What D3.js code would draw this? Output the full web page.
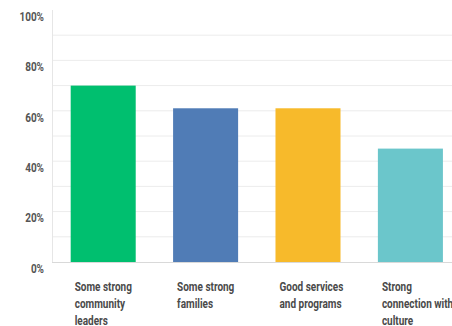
<!DOCTYPE html>
<html><head><meta charset="utf-8">
<script src="https://cdn.jsdelivr.net/npm/d3@7"></script>
<style>body{margin:0;background:#fff}svg{display:block}</style>
</head><body><svg id="c" width="452" height="326"></svg>
<script>
const categories = [["Some strong","community","leaders"],["Some strong","families"],["Good services","and programs"],["Strong","connection with","culture"]];
const values = [70, 61, 61, 45];
const colors = ["#00BF6F","#507CB6","#F7BA2B","#6BC6CB"];
const yTicks = [0,20,40,60,80,100];
const gridTicks = [10,20,30,40,50,60,70,80,90];

const svg = d3.select("#c");
const x0 = 52, yTop = 10, yBot = 262;
const x = d3.scaleBand().domain(d3.range(values.length)).range([x0, x0 + 4*102.4]).paddingInner(0.365).paddingOuter(0.1825);
const y = d3.scaleLinear().domain([0,100]).range([yBot, yTop]);

svg.append("g").selectAll("line").data(gridTicks).join("line")
  .attr("x1", x0).attr("x2", 452).attr("y1", d=>y(d)).attr("y2", d=>y(d))
  .attr("stroke", "#ececec").attr("stroke-width", 1);

svg.append("line").attr("x1", x0+0.5).attr("x2", x0+0.5).attr("y1", yTop).attr("y2", yBot)
  .attr("stroke", "#e6e6e6");
svg.append("line").attr("x1", x0).attr("x2", 452).attr("y1", yBot+0.5).attr("y2", yBot+0.5)
  .attr("stroke", "#d9d9d9");

svg.append("g").selectAll("rect").data(values).join("rect")
  .attr("x", (d,i)=>x(i)).attr("width", x.bandwidth())
  .attr("y", d=>y(d)).attr("height", d=>yBot - y(d))
  .attr("fill", (d,i)=>colors[i]);

const font = "'Roboto', sans-serif";
svg.append("g").selectAll("text").data(yTicks).join("text")
  .attr("transform", d=>`translate(44,${y(d)+6.5}) scale(0.8,1)`).attr("dy","0.35em")
  .attr("text-anchor","end").attr("font-family", font).attr("font-weight","bold")
  .attr("font-size", 12.5).attr("fill","#555")
  .text(d=>d+"%");

const lab = svg.append("g").selectAll("text").data(categories).join("text")
  .attr("transform", (d,i)=>`translate(${x(i)+4},287) scale(0.8,1)`)
  .attr("font-family", font).attr("font-weight","bold").attr("font-size", 12.5).attr("fill","#4a4a4a");
lab.selectAll("tspan").data(d=>d).join("tspan")
  .attr("x", 0)
  .attr("dy", (d,i)=> i===0 ? "0.35em" : "17px")
  .text(d=>d);
</script></body></html>
